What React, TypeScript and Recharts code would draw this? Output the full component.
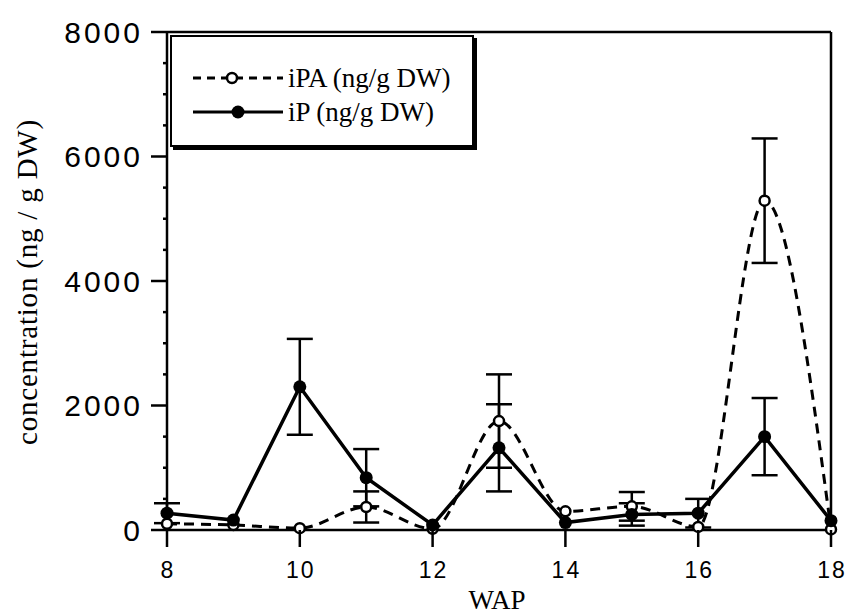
import { ComposedChart, ErrorBar, Legend, Line, ReferenceLine, XAxis, YAxis } from "recharts";

const WEEKS = [8, 9, 10, 11, 12, 13, 14, 15, 16, 17, 18];
const IPA = [100, 80, 30, 370, 20, 1750, 300, 380, 50, 5290, 10];
const IPA_ERR = [null, null, null, 250, null, 750, null, 230, null, 1000, null];
const IP = [270, 160, 2300, 840, 80, 1320, 120, 250, 270, 1500, 150];
const IP_ERR = [160, null, 770, 460, null, 700, null, 180, 230, 620, null];

const X_TICKS = [8, 10, 12, 14, 16, 18];
const Y_TICKS = [0, 500, 1000, 1500, 2000, 2500, 3000, 3500, 4000, 4500, 5000, 5500, 6000, 6500, 7000, 7500, 8000];

const data = WEEKS.map((wap, i) => ({
  wap,
  iPA: IPA[i],
  iPAErr: IPA_ERR[i],
  iP: IP[i],
  iPErr: IP_ERR[i],
}));

const INK = "#000";
const SANS = "'Liberation Sans', Arial, sans-serif";
const SERIF = "'Liberation Serif', 'Times New Roman', serif";

function YTick({ x, y, payload }: any) {
  const major = payload.value % 2000 === 0;
  return (
    <g>
      <line x1={x - (major ? 16 : 4)} x2={x} y1={y} y2={y} stroke={INK} strokeWidth={2.5} />
      {major && (
        <text
          x={x - 24}
          y={y + 10.5}
          textAnchor="end"
          fontFamily={SANS}
          fontSize={30}
          letterSpacing={3}
          fill={INK}
        >
          {payload.value}
        </text>
      )}
    </g>
  );
}

function XTick({ x, y, payload }: any) {
  return (
    <g>
      <line x1={x} x2={x} y1={y} y2={y + 17} stroke={INK} strokeWidth={2.5} />
      <text
        x={x + 1}
        y={y + 48}
        textAnchor="middle"
        fontFamily={SANS}
        fontSize={23}
        letterSpacing={2}
        fill={INK}
      >
        {payload.value}
      </text>
    </g>
  );
}

function OpenDot({ cx, cy }: any) {
  if (cx == null || cy == null) return null;
  return <circle cx={cx} cy={cy} r={5} fill="#fff" stroke={INK} strokeWidth={2.5} />;
}

function FilledDot({ cx, cy }: any) {
  if (cx == null || cy == null) return null;
  return <circle cx={cx} cy={cy} r={6.5} fill={INK} stroke="none" />;
}

const LEGEND_STYLE: Record<string, { dash?: string; open: boolean }> = {
  iPA: { dash: "8 6", open: true },
  iP: { open: false },
};

function LegendBox({ payload }: any) {
  const items = (payload || []).slice().sort((a: any) => (a.dataKey === "iPA" ? -1 : 1));
  return (
    <div
      style={{
        width: 304,
        height: 112,
        border: `2.5px solid ${INK}`,
        boxShadow: `3px 3px 0 ${INK}`,
        background: "#fff",
        boxSizing: "border-box",
        paddingTop: 24,
        paddingLeft: 20,
      }}
    >
      {items.map((item: any) => {
        const st = LEGEND_STYLE[item.dataKey] || { open: false };
        return (
          <div key={item.dataKey} style={{ display: "flex", alignItems: "center", height: 34 }}>
            <svg width={94} height={20}>
              <line
                x1={1}
                x2={91}
                y1={10}
                y2={10}
                stroke={INK}
                strokeWidth={3}
                strokeDasharray={st.dash}
              />
              {st.open ? (
                <circle cx={40} cy={10} r={5} fill="#fff" stroke={INK} strokeWidth={2.5} />
              ) : (
                <circle cx={46} cy={10} r={6.5} fill={INK} />
              )}
            </svg>
            <span style={{ fontFamily: SERIF, fontSize: 27, marginLeft: 2, lineHeight: 1 }}>
              {item.value}
            </span>
          </div>
        );
      })}
    </div>
  );
}

function YTitle() {
  return (
    <text
      x={37}
      y={282}
      transform="rotate(-90 37 282)"
      textAnchor="middle"
      fontFamily={SERIF}
      fontSize={29}
      letterSpacing={0.8}
      fill={INK}
    >
      concentration (ng / g DW)
    </text>
  );
}

function XTitle() {
  return (
    <text x={497} y={609} textAnchor="middle" fontFamily={SERIF} fontSize={27} fill={INK}>
      WAP
    </text>
  );
}

export default function App() {
  return (
    <div style={{ position: "absolute", left: 0, top: 0, background: "#fff" }}>
      <ComposedChart
        width={848}
        height={616}
        data={data}
        margin={{ top: 32, right: 17, bottom: 0, left: 47 }}
      >
        <XAxis
          dataKey="wap"
          type="number"
          domain={[8, 18]}
          ticks={X_TICKS}
          interval={0}
          height={86}
          tickSize={0}
          tickMargin={0}
          tickLine={false}
          tick={<XTick />}
          axisLine={{ stroke: INK, strokeWidth: 2.5 }}
          label={{ content: () => <XTitle /> }}
        />
        <YAxis
          type="number"
          domain={[0, 8000]}
          ticks={Y_TICKS}
          interval={0}
          width={120}
          tickSize={0}
          tickMargin={0}
          tickLine={false}
          tick={<YTick />}
          axisLine={{ stroke: INK, strokeWidth: 2.5 }}
          label={{ content: () => <YTitle /> }}
        />
        <ReferenceLine y={8000} stroke={INK} strokeWidth={2.5} />
        <ReferenceLine x={18} stroke={INK} strokeWidth={2.5} />
        <Line
          dataKey="iPA"
          name="iPA (ng/g DW)"
          type="monotone"
          stroke={INK}
          strokeWidth={3}
          strokeDasharray="10 7"
          dot={<OpenDot />}
          isAnimationActive={false}
        >
          <ErrorBar dataKey="iPAErr" direction="y" width={13} stroke={INK} strokeWidth={2.5} />
        </Line>
        <Line
          dataKey="iP"
          name="iP (ng/g DW)"
          type="linear"
          stroke={INK}
          strokeWidth={3.5}
          dot={<FilledDot />}
          isAnimationActive={false}
        >
          <ErrorBar dataKey="iPErr" direction="y" width={13} stroke={INK} strokeWidth={2.5} />
        </Line>
        <Legend
          layout="vertical"
          align="center"
          verticalAlign="middle"
          wrapperStyle={{ left: 170, top: 35, width: "auto" }}
          content={<LegendBox />}
        />
      </ComposedChart>
    </div>
  );
}
